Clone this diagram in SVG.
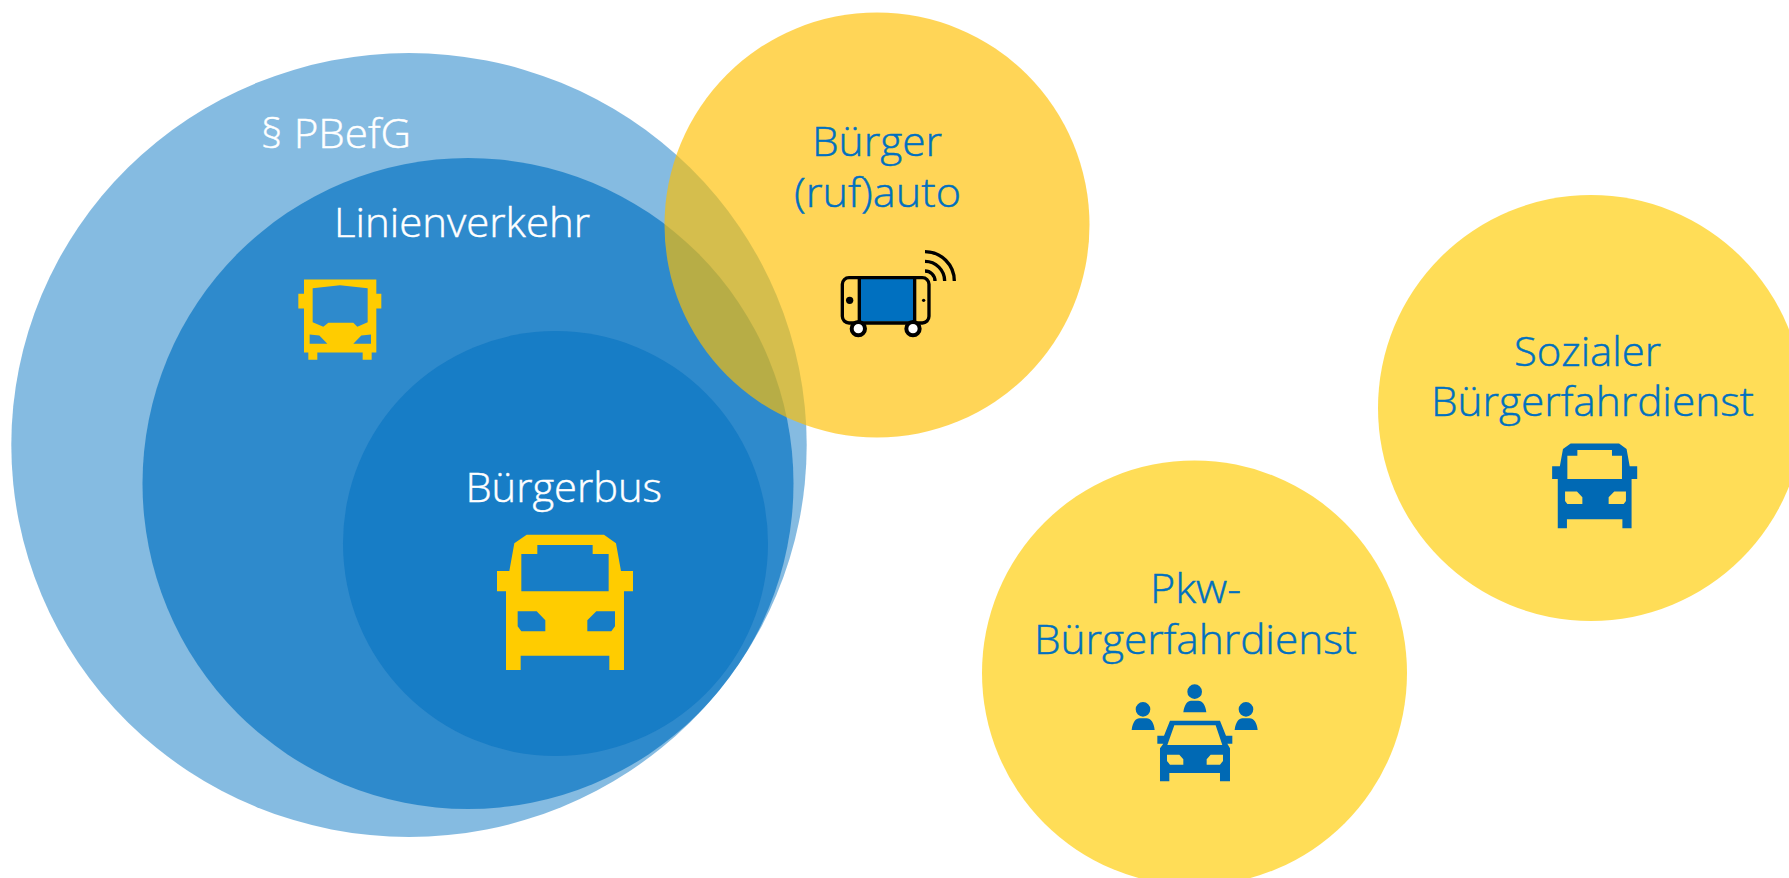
<svg xmlns="http://www.w3.org/2000/svg" width="1789" height="878" viewBox="0 0 1789 878">
<style>
text{font-family:"Open Sans","Noto Sans","Liberation Sans",sans-serif;font-size:40px;font-weight:300;stroke-width:.45}
.w{fill:#fff;stroke:#fff}.b{fill:#0070c0;stroke:#0070c0}
.yl{fill:#ffc000;fill-opacity:.66}.ys{fill:#fc0;fill-opacity:.66}
.ic{fill:#fc0}.ib{fill:#0069b4}
</style>
<defs>
<path id="busfront" fill-rule="evenodd" d="M140 41H372L408 67L423 150H459V211H432V447H388V404H122V447H78V211H51V150H88L103 67ZM172 72H338V99H386V211H124V99H172ZM113 271H170L196 298V331H124L113 316ZM405 271H349L322 298V331H394L405 316Z"/>
<path id="person" d="M35 177C38 153 48 142 58 142H80C92 142 102 155 104 177ZM47 115a22 22 0 1 0 44 0a22 22 0 1 0-44 0Z"/>
</defs>
<g id="pbefg">
<ellipse cx="409" cy="445" rx="397.7" ry="392" fill="#0070c0" fill-opacity=".48"/>
<text class="w" x="261" y="148" textLength="150" lengthAdjust="spacingAndGlyphs">§ PBefG</text>
</g>
<g id="linienverkehr">
<circle cx="468" cy="483.5" r="325.5" fill="#0070c0" fill-opacity=".65"/>
<text class="w" x="334" y="237" textLength="256" lengthAdjust="spacingAndGlyphs">Linienverkehr</text>
<g class="ic" transform="translate(280 260.5) scale(.3333)">
<path fill-rule="evenodd" d="M72 57H289V100H304V144H289V276H275V298H248V276H112V298H85V276H72V144H55V100H72ZM98 83L180 74L263 83V185L232 199L220 187H145L130 199L98 185ZM89 222L118 225L142 250H89ZM273 222L244 225L220 250H273Z"/>
</g>
</g>
<g id="buergerbus">
<circle cx="555.5" cy="543.5" r="212.5" fill="#0070c0" fill-opacity=".5"/>
<text class="w" x="465.5" y="502" textLength="196.5" lengthAdjust="spacingAndGlyphs">Bürgerbus</text>
<use href="#busfront" class="ic" transform="translate(480 521) scale(.3333)"/>
</g>
<g id="buergerrufauto">
<circle class="yl" cx="877" cy="225" r="212.5"/>
<text class="b" x="812" y="156" textLength="130" lengthAdjust="spacingAndGlyphs">Bürger</text>
<text class="b" x="794" y="206.5" textLength="167" lengthAdjust="spacingAndGlyphs">(ruf)auto</text>
<g transform="translate(820 231) scale(.3333)">
<rect x="118" y="144" width="166" height="128" fill="#0070c0"/>
<rect x="67" y="140" width="260" height="136" rx="20" fill="none" stroke="#000" stroke-width="10"/>
<path d="M118 140V276M284 140V276M315 120A30 30 0 0 1 345 150M315 91A59 59 0 0 1 374 150M315 62A88 88 0 0 1 403 150" fill="none" stroke="#000" stroke-width="10"/>
<circle cx="89" cy="208" r="11"/><circle cx="311" cy="208" r="5"/>
<circle cx="115" cy="293" r="20" fill="#fff" stroke="#000" stroke-width="12"/>
<circle cx="279" cy="293" r="20" fill="#fff" stroke="#000" stroke-width="12"/>
</g>
</g>
<g id="sozialer">
<circle class="ys" cx="1591" cy="408" r="213"/>
<text class="b" x="1514" y="366" textLength="147" lengthAdjust="spacingAndGlyphs">Sozialer</text>
<text class="b" x="1431" y="416" textLength="323" lengthAdjust="spacingAndGlyphs">Bürgerfahrdienst</text>
<use href="#busfront" class="ib" transform="translate(1541.5 435) scale(.2085)"/>
</g>
<g id="pkw">
<circle class="ys" cx="1194.5" cy="673" r="212.5"/>
<text class="b" x="1150" y="603" textLength="91" lengthAdjust="spacingAndGlyphs">Pkw-</text>
<text class="b" x="1034" y="654" textLength="323" lengthAdjust="spacingAndGlyphs">Bürgerfahrdienst</text>
<g class="ib" transform="translate(1120 671) scale(.3333)">
<path fill-rule="evenodd" d="M150 149H300L318 194H337V218H322L330 232V331H300V306H148V331H120V232L130 218H112V194H132ZM163 163H287L307 222H142ZM141 251H178L190 265V281H150L141 270ZM309 251H272L260 265V281H300L309 270Z"/>
<use href="#person"/>
<use href="#person" x="155" y="-53"/>
<use href="#person" x="309"/>
</g>
</g>
</svg>
